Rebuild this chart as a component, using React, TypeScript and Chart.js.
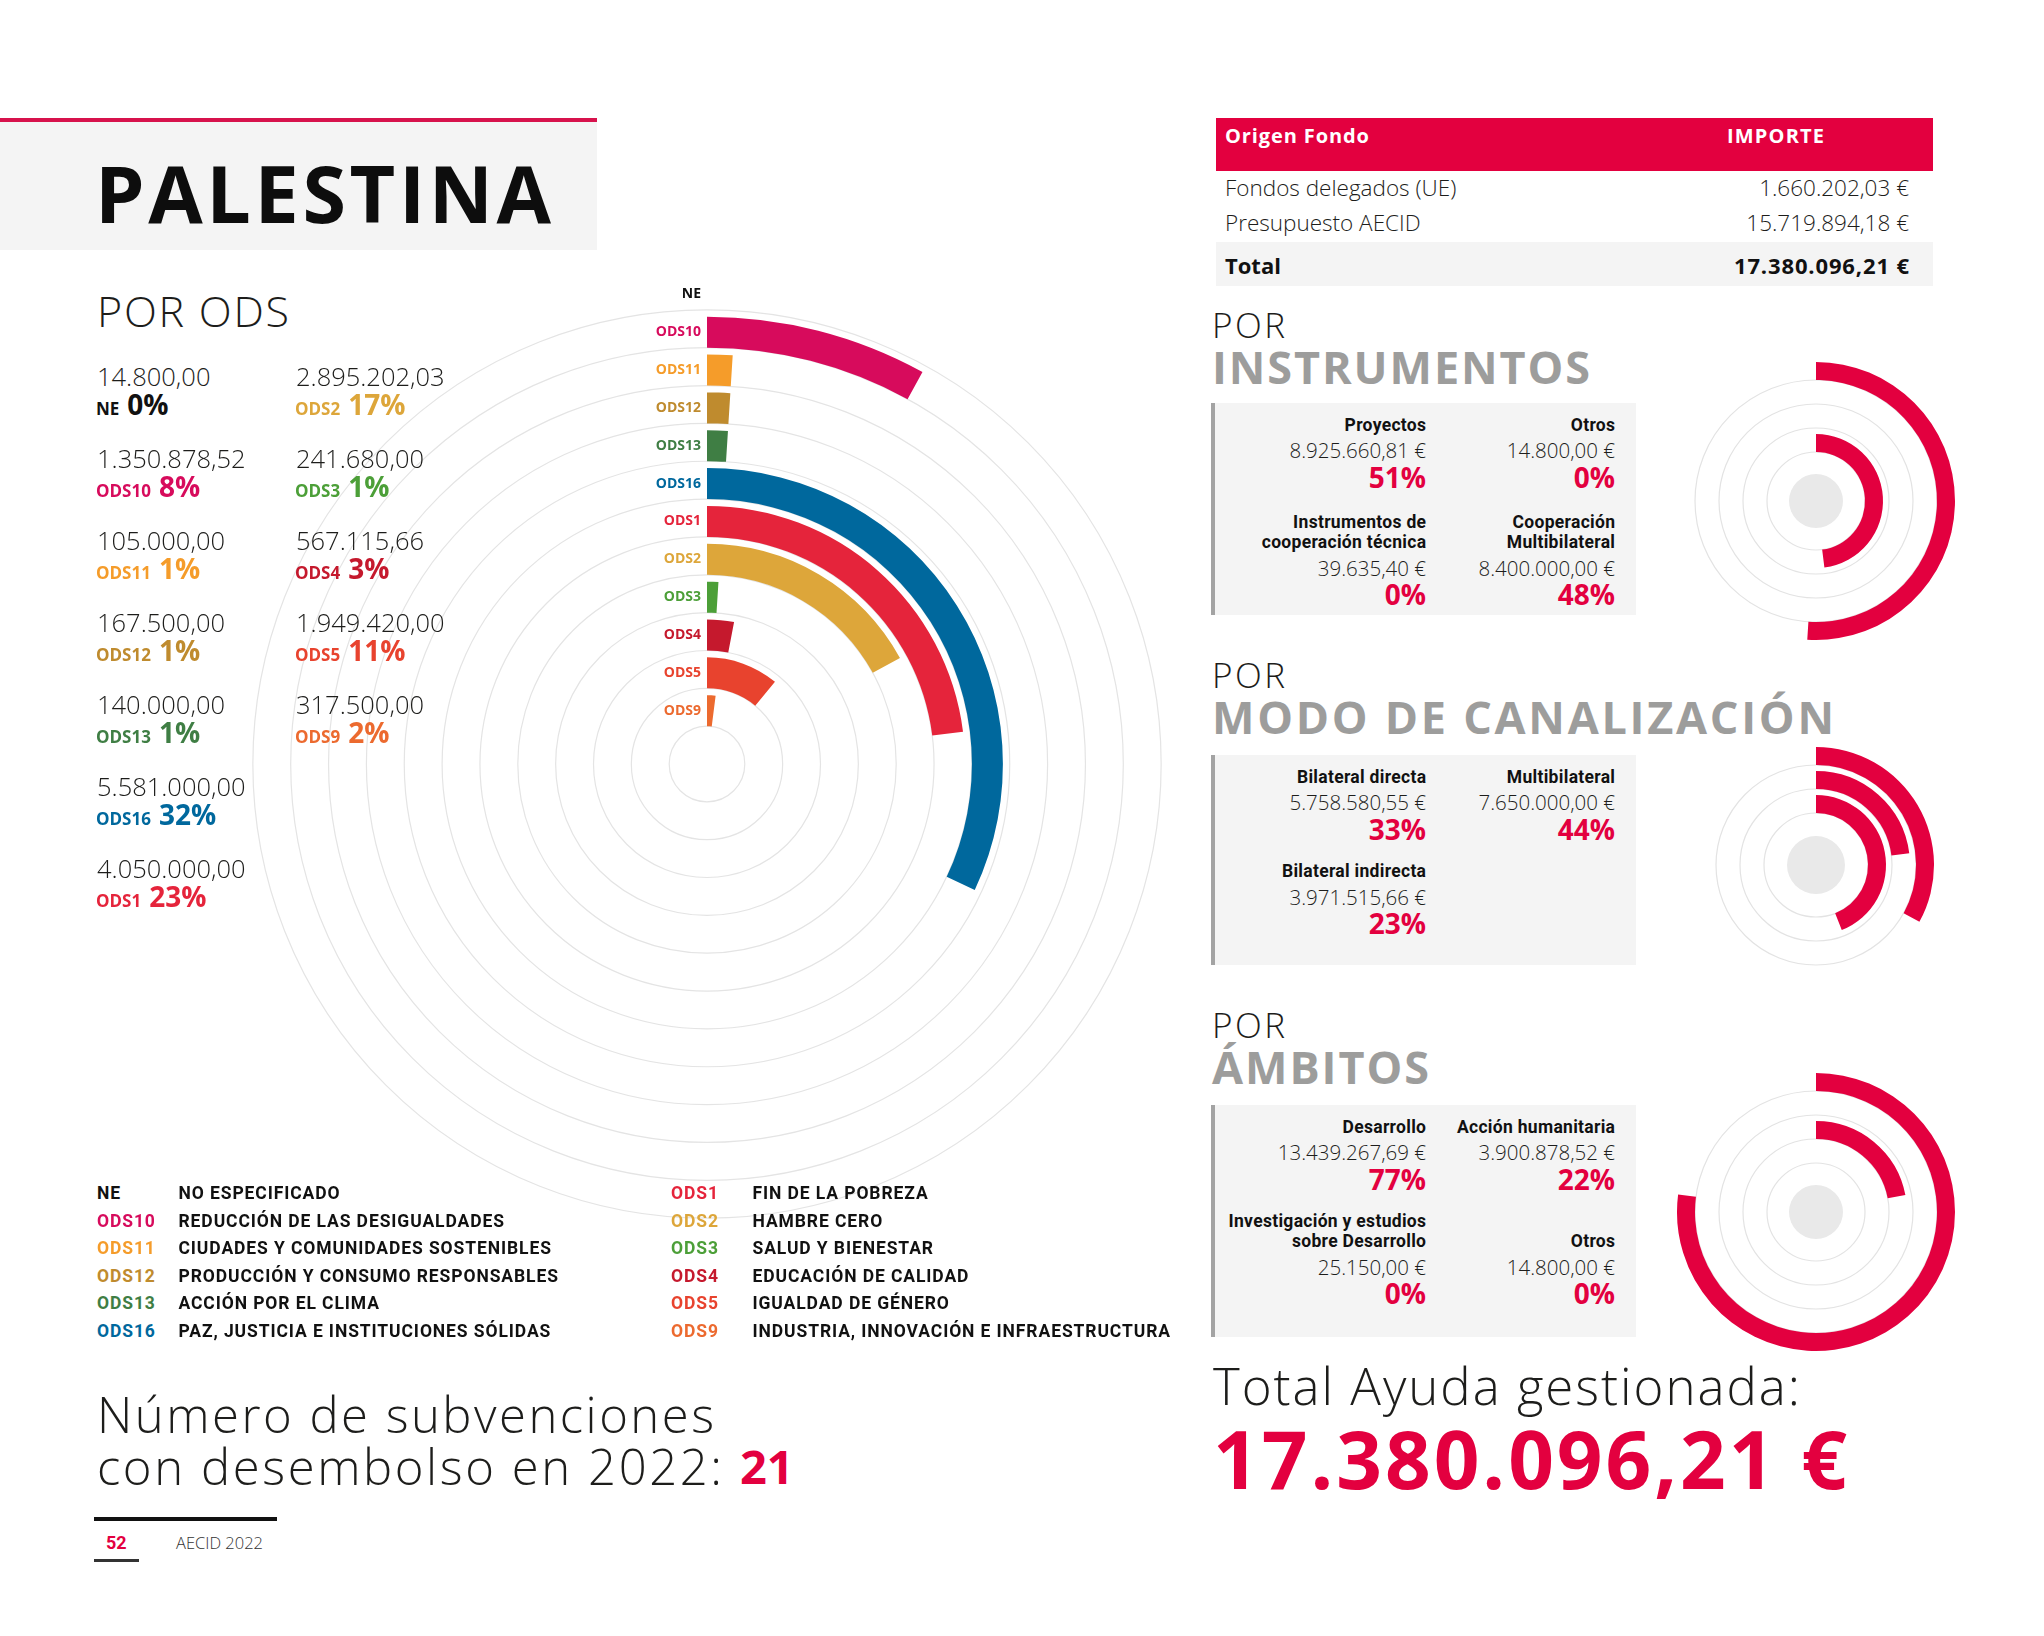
import React, { useEffect, useRef } from 'react';
import { Chart, registerables } from 'chart.js';

Chart.register(...registerables);

const W = 2044;
const H = 1636;
const RED = '#e3003f';
const DARK = '#1d1d1b';
const GRAYHEAD = '#9d9d9c';
const GEO = '"Open Sans", "Noto Sans", "DejaVu Sans", sans-serif';
const COND = 'Roboto, "Noto Sans", sans-serif';

// ---------------- data ----------------
const countryName = 'PALESTINA';

const odsCodes = ['NE', 'ODS10', 'ODS11', 'ODS12', 'ODS13', 'ODS16', 'ODS1', 'ODS2', 'ODS3', 'ODS4', 'ODS5', 'ODS9'];
const odsNames = [
  'NO ESPECIFICADO',
  'REDUCCIÓN DE LAS DESIGUALDADES',
  'CIUDADES Y COMUNIDADES SOSTENIBLES',
  'PRODUCCIÓN Y CONSUMO RESPONSABLES',
  'ACCIÓN POR EL CLIMA',
  'PAZ, JUSTICIA E INSTITUCIONES SÓLIDAS',
  'FIN DE LA POBREZA',
  'HAMBRE CERO',
  'SALUD Y BIENESTAR',
  'EDUCACIÓN DE CALIDAD',
  'IGUALDAD DE GÉNERO',
  'INDUSTRIA, INNOVACIÓN E INFRAESTRUCTURA',
];
const odsAmountLabels = ['14.800,00', '1.350.878,52', '105.000,00', '167.500,00', '140.000,00', '5.581.000,00', '4.050.000,00', '2.895.202,03', '241.680,00', '567.115,66', '1.949.420,00', '317.500,00'];
const odsPercents = [0, 8, 1, 1, 1, 32, 23, 17, 1, 3, 11, 2];
const odsColors = ['#111111', '#d70b5c', '#f59c2a', '#bf8b2e', '#3f7e44', '#00689d', '#e5243b', '#dda63a', '#4c9f38', '#c5192d', '#e8432e', '#ec6a2f'];

const fundOrigins = ['Fondos delegados (UE)', 'Presupuesto AECID'];
const fundAmountLabels = ['1.660.202,03 €', '15.719.894,18 €'];
const totalLabel = '17.380.096,21 €';

const instrNames = ['Proyectos', 'Instrumentos de\ncooperación técnica', 'Otros', 'Cooperación\nMultibilateral'];
const instrAmountLabels = ['8.925.660,81 €', '39.635,40 €', '14.800,00 €', '8.400.000,00 €'];
const instrPercents = [51, 0, 0, 48];

const canalNames = ['Bilateral directa', 'Bilateral indirecta', 'Multibilateral'];
const canalAmountLabels = ['5.758.580,55 €', '3.971.515,66 €', '7.650.000,00 €'];
const canalPercents = [33, 23, 44];

const ambitoNames = ['Desarrollo', 'Investigación y estudios\nsobre Desarrollo', 'Acción humanitaria', 'Otros'];
const ambitoAmountLabels = ['13.439.267,69 €', '25.150,00 €', '3.900.878,52 €', '14.800,00 €'];
const ambitoPercents = [77, 0, 22, 0];

const fullScale = 100; // a full circle = 100 %

const grantsCount = '21';
const pageNumber = '52';
const footerLabel = 'AECID 2022';

// ---------------- helpers ----------------
const pct = (p: number) => `${p}%`;

let mctx: any = null;
function fitSpacing(text: string, font: string, target: number) {
  if (!mctx) mctx = document.createElement('canvas').getContext('2d');
  mctx.font = font;
  const w = mctx.measureText(text).width;
  return (target - w) / Math.max(text.length - 1, 1);
}

function Txt({ x, y, size, weight = 400, color = DARK, family = GEO, align = 'left', fit, ls, children }: any) {
  const font = `${weight} ${size}px ${family}`;
  let spacing = ls || 0;
  if (fit && typeof children === 'string') spacing = fitSpacing(children, font, fit);
  const style: any = {
    position: 'absolute',
    top: y,
    transform: 'translateY(-50%)',
    fontFamily: family,
    fontSize: size,
    fontWeight: weight,
    lineHeight: 1,
    color,
    whiteSpace: 'nowrap',
    letterSpacing: spacing ? `${spacing}px` : undefined,
  };
  if (align === 'right') {
    style.right = W - x;
    if (spacing) style.marginRight = -spacing;
  } else style.left = x;
  return <div style={style}>{children}</div>;
}

function makeRingPlugin(cfg: any) {
  return {
    id: 'rings',
    beforeDatasetsDraw(chart: any) {
      const ctx = chart.ctx;
      let cx = 0, cy = 0;
      chart.data.datasets.forEach((ds: any, i: number) => {
        if (ds.spacer) return;
        const arc = chart.getDatasetMeta(i).data[0];
        cx = arc.x; cy = arc.y;
        ctx.save();
        ctx.beginPath();
        ctx.arc(arc.x, arc.y, arc.innerRadius, 0, Math.PI * 2);
        ctx.strokeStyle = cfg.gridColor;
        ctx.lineWidth = cfg.gridWidth;
        ctx.stroke();
        ctx.restore();
      });
      if (cfg.discRadius) {
        ctx.save();
        ctx.beginPath();
        ctx.arc(cx, cy, cfg.discRadius, 0, Math.PI * 2);
        ctx.fillStyle = '#e9e9e9';
        ctx.fill();
        ctx.restore();
      }
    },
    afterDatasetsDraw(chart: any) {
      if (!cfg.labels) return;
      const ctx = chart.ctx;
      let k = 0;
      chart.data.datasets.forEach((ds: any, i: number) => {
        if (ds.spacer) return;
        const arc = chart.getDatasetMeta(i).data[0];
        ctx.save();
        ctx.font = cfg.labelFont;
        ctx.fillStyle = cfg.labelColors[k];
        ctx.textAlign = 'right';
        ctx.textBaseline = 'middle';
        ctx.fillText(cfg.labels[k], arc.x - 6, arc.y - (arc.innerRadius + arc.outerRadius) / 2);
        ctx.restore();
        k++;
      });
    },
  };
}

function RingChart({ left, top, size, values, total, colors, cutout, barWeight, gapWeight, labels, labelColors, labelFont, discRadius, gridColor = '#e3e3e3', gridWidth = 1.2 }: any) {
  const ref = useRef<HTMLCanvasElement>(null);
  useEffect(() => {
    const datasets: any[] = [];
    values.forEach((v: number, i: number) => {
      datasets.push({ spacer: true, data: [total], backgroundColor: ['rgba(0,0,0,0)'], weight: gapWeight, borderWidth: 0 });
      datasets.push({
        label: labels ? labels[i] : String(i),
        data: [v, total - v],
        backgroundColor: [Array.isArray(colors) ? colors[i] : colors, 'rgba(0,0,0,0)'],
        weight: barWeight,
        borderWidth: 0,
      });
    });
    const chart = new Chart(ref.current as any, {
      type: 'doughnut',
      data: { labels: ['valor', 'resto'], datasets },
      options: {
        responsive: false,
        animation: false,
        events: [],
        cutout,
        rotation: 0,
        circumference: 360,
        layout: { padding: 0 },
        plugins: { legend: { display: false }, tooltip: { enabled: false } },
      } as any,
      plugins: [makeRingPlugin({ labels, labelColors, labelFont, discRadius, gridColor, gridWidth })],
    });
    return () => chart.destroy();
  }, []);
  return <canvas ref={ref} width={size} height={size} style={{ position: 'absolute', left, top, width: size, height: size }} />;
}

function Panel({ top, height, names, amounts, pcts, cells, row1 }: any) {
  return (
    <>
      <div style={{ position: 'absolute', left: 1211, top, width: 425, height, background: '#f4f4f4', borderLeft: '4px solid #a3a3a3', boxSizing: 'border-box' }} />
      {names.map((name: string, i: number) => {
        const [col, row] = cells[i];
        const xr = col === 0 ? 1426 : 1615;
        const base = top + (row === 0 ? 22.5 : row1);
        const lines = name.split('\n');
        return (
          <React.Fragment key={i}>
            {lines.map((ln, j) => (
              <Txt key={j} x={xr} y={base - (lines.length - 1 - j) * 20} size={17.5} weight={700} family={COND} align="right" color="#111" ls={0.3}>
                {ln}
              </Txt>
            ))}
            <Txt x={xr} y={base + 24.5} size={20.5} weight={300} align="right">{amounts[i]}</Txt>
            <Txt x={xr} y={base + 51} size={28} weight={700} align="right" color={RED}>{pct(pcts[i])}</Txt>
          </React.Fragment>
        );
      })}
    </>
  );
}

export default function App() {
  return (
    <div style={{ position: 'absolute', left: 0, top: 0, width: W, height: H, background: '#fff', overflow: 'hidden' }}>
      {/* header */}
      <div style={{ position: 'absolute', left: 0, top: 118, width: 597, height: 4, background: '#d7124c' }} />
      <div style={{ position: 'absolute', left: 0, top: 122, width: 597, height: 128, background: '#f4f4f4' }} />
      <Txt x={95} y={192} size={79} weight={700} color="#0d0d0d" fit={456}>{countryName}</Txt>
      <Txt x={97} y={310} size={43} weight={300} fit={192}>POR ODS</Txt>

      {/* main radial chart */}
      <RingChart
        left={215}
        top={272}
        size={984}
        values={odsPercents}
        total={fullScale}
        colors={odsColors}
        cutout={37.8}
        barWeight={31}
        gapWeight={6.85}
        labels={odsCodes}
        labelColors={odsColors}
        labelFont={`700 14px ${GEO}`}
        gridColor="#e4e4e4"
        gridWidth={1.2}
      />

      {/* ODS amounts list */}
      {odsCodes.map((code, i) => {
        const col = i < 7 ? 0 : 1;
        const row = col === 0 ? i : i - 7;
        const x = col === 0 ? 97 : 296;
        const y = 376.5 + 82 * row;
        return (
          <React.Fragment key={code}>
            <Txt x={x} y={y} size={25.5} weight={300}>{odsAmountLabels[i]}</Txt>
            <div style={{ position: 'absolute', left: x - 1, top: y + 27.5, transform: 'translateY(-50%)', whiteSpace: 'nowrap', lineHeight: 1, color: odsColors[i], fontFamily: GEO, fontWeight: 700 }}>
              <span style={{ fontSize: 17 }}>{code}</span>
              <span style={{ fontSize: 28, marginLeft: 8 }}>{pct(odsPercents[i])}</span>
            </div>
          </React.Fragment>
        );
      })}

      {/* legend */}
      {odsCodes.map((code, i) => {
        const col = i < 6 ? 0 : 1;
        const row = col === 0 ? i : i - 6;
        const y = 1194 + 27.5 * row;
        const cx = col === 0 ? 97 : 671;
        const dx = col === 0 ? 178.5 : 752.5;
        return (
          <React.Fragment key={'lg' + code}>
            <Txt x={cx} y={y} size={17.5} weight={700} family={COND} color={odsColors[i]} ls={0.9}>{code}</Txt>
            <Txt x={dx} y={y} size={17.5} weight={700} family={COND} color="#111" ls={0.9}>{odsNames[i]}</Txt>
          </React.Fragment>
        );
      })}

      {/* bottom left */}
      <Txt x={97} y={1413.5} size={49} weight={300} fit={617}>Número de subvenciones</Txt>
      <Txt x={97} y={1466} size={49} weight={300} fit={625}>con desembolso en 2022:</Txt>
      <Txt x={740} y={1466} size={47} weight={700} color={RED}>{grantsCount}</Txt>

      {/* footer */}
      <div style={{ position: 'absolute', left: 94, top: 1517, width: 183, height: 4, background: '#111' }} />
      <Txt x={106} y={1543} size={18} weight={700} family={COND} color={RED}>{pageNumber}</Txt>
      <Txt x={176} y={1543} size={16.5} weight={300} color="#333">{footerLabel}</Txt>
      <div style={{ position: 'absolute', left: 94, top: 1559, width: 45, height: 3, background: '#333' }} />

      {/* fund table */}
      <div style={{ position: 'absolute', left: 1216, top: 118, width: 717, height: 53, background: RED }} />
      <Txt x={1225} y={136} size={20} weight={700} color="#fff" fit={144}>Origen Fondo</Txt>
      <Txt x={1727} y={136} size={20} weight={700} color="#fff" fit={97}>IMPORTE</Txt>
      {fundOrigins.map((o, i) => (
        <React.Fragment key={o}>
          <Txt x={1225} y={188 + 35 * i} size={22.5} weight={300}>{o}</Txt>
          <Txt x={1909} y={188 + 35 * i} size={22.5} weight={300} align="right">{fundAmountLabels[i]}</Txt>
        </React.Fragment>
      ))}
      <div style={{ position: 'absolute', left: 1216, top: 242, width: 717, height: 44, background: '#f4f4f4' }} />
      <Txt x={1225} y={265} size={22} weight={700} color="#111">Total</Txt>
      <Txt x={1909} y={265} size={22} weight={700} color="#111" align="right" fit={175}>{totalLabel}</Txt>

      {/* POR INSTRUMENTOS */}
      <Txt x={1212} y={323.5} size={35} weight={300} fit={73}>POR</Txt>
      <Txt x={1212} y={365.5} size={45} weight={700} color={GRAYHEAD} fit={378}>INSTRUMENTOS</Txt>
      <Panel top={403} height={212} row1={140} names={instrNames} amounts={instrAmountLabels} pcts={instrPercents} cells={[[0, 0], [0, 1], [1, 0], [1, 1]]} />
      <RingChart left={1671} top={356} size={290} values={instrPercents} total={fullScale} colors={RED} cutout={49} barWeight={18} gapWeight={6} discRadius={27} />

      {/* POR MODO DE CANALIZACIÓN */}
      <Txt x={1212} y={674} size={35} weight={300} fit={73}>POR</Txt>
      <Txt x={1212} y={716} size={45} weight={700} color={GRAYHEAD} fit={622}>MODO DE CANALIZACIÓN</Txt>
      <Panel top={755} height={210} row1={117} names={canalNames} amounts={canalAmountLabels} pcts={canalPercents} cells={[[0, 0], [0, 1], [1, 0]]} />
      <RingChart left={1692} top={741} size={248} values={canalPercents} total={fullScale} colors={RED} cutout={52} barWeight={18} gapWeight={6} discRadius={29} />

      {/* POR ÁMBITOS */}
      <Txt x={1212} y={1024} size={35} weight={300} fit={73}>POR</Txt>
      <Txt x={1212} y={1066} size={45} weight={700} color={GRAYHEAD} fit={217}>ÁMBITOS</Txt>
      <Panel top={1105} height={232} row1={137} names={ambitoNames} amounts={ambitoAmountLabels} pcts={ambitoPercents} cells={[[0, 0], [0, 1], [1, 0], [1, 1]]} />
      <RingChart left={1671} top={1067} size={290} values={ambitoPercents} total={fullScale} colors={RED} cutout={49} barWeight={18} gapWeight={6} discRadius={27} />

      {/* total */}
      <Txt x={1213} y={1385} size={51} weight={300} fit={587}>Total Ayuda gestionada:</Txt>
      <Txt x={1213} y={1458} size={80} weight={700} color={RED} fit={634}>{totalLabel}</Txt>
    </div>
  );
}
